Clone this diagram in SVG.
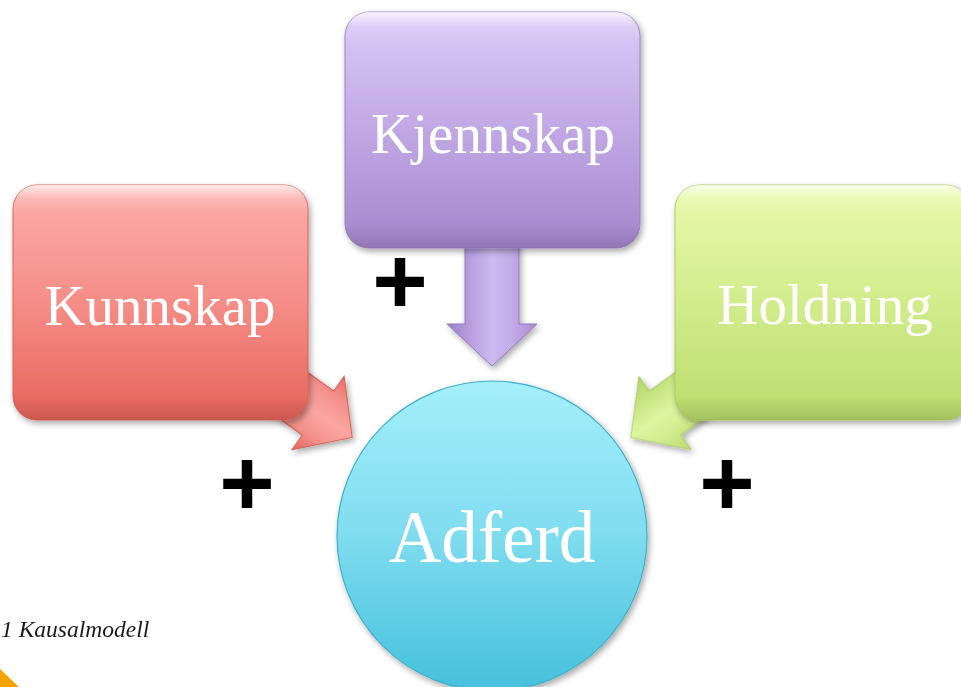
<svg xmlns="http://www.w3.org/2000/svg" width="961" height="687" viewBox="0 0 961 687">
  <defs>
    <linearGradient id="gRed" x1="0" y1="0" x2="0" y2="1">
      <stop offset="0" stop-color="#fcaeab"/>
      <stop offset="0.5" stop-color="#f58d87"/>
      <stop offset="1" stop-color="#e6645a"/>
    </linearGradient>
    <linearGradient id="gPurple" x1="0" y1="0" x2="0" y2="1">
      <stop offset="0" stop-color="#dccbf8"/>
      <stop offset="0.5" stop-color="#c0a8e4"/>
      <stop offset="1" stop-color="#a386cb"/>
    </linearGradient>
    <linearGradient id="gGreen" x1="0" y1="0" x2="0" y2="1">
      <stop offset="0" stop-color="#e8faab"/>
      <stop offset="0.5" stop-color="#d2ec8c"/>
      <stop offset="1" stop-color="#b9dc6b"/>
    </linearGradient>
    <linearGradient id="gCyan" x1="0" y1="0" x2="0" y2="1">
      <stop offset="0" stop-color="#a4effb"/>
      <stop offset="0.5" stop-color="#7fdcef"/>
      <stop offset="1" stop-color="#44c0dc"/>
    </linearGradient>
    <!-- glossy rim along the top of each box -->
    <linearGradient id="gGloss" x1="0" y1="0" x2="0" y2="1">
      <stop offset="0" stop-color="#ffffff" stop-opacity="0.75"/>
      <stop offset="0.06" stop-color="#ffffff" stop-opacity="0.15"/>
      <stop offset="0.12" stop-color="#ffffff" stop-opacity="0"/>
      <stop offset="0.9" stop-color="#000000" stop-opacity="0"/>
      <stop offset="1" stop-color="#000000" stop-opacity="0.12"/>
    </linearGradient>
    <!-- bevel across the arrow body (local coordinates, arrow points along +x) -->
    <linearGradient id="aRed" gradientUnits="userSpaceOnUse" x1="0" y1="-45" x2="0" y2="45">
      <stop offset="0" stop-color="#e86e68"/>
      <stop offset="0.25" stop-color="#f3918b"/>
      <stop offset="0.5" stop-color="#fba6a1"/>
      <stop offset="0.75" stop-color="#f3918b"/>
      <stop offset="1" stop-color="#e06660"/>
    </linearGradient>
    <linearGradient id="aPurple" gradientUnits="userSpaceOnUse" x1="0" y1="-45" x2="0" y2="45">
      <stop offset="0" stop-color="#a98ed3"/>
      <stop offset="0.3" stop-color="#c4ade9"/>
      <stop offset="0.5" stop-color="#cdb9f0"/>
      <stop offset="0.7" stop-color="#bba3e2"/>
      <stop offset="1" stop-color="#9c80c8"/>
    </linearGradient>
    <linearGradient id="aGreen" gradientUnits="userSpaceOnUse" x1="0" y1="-45" x2="0" y2="45">
      <stop offset="0" stop-color="#b9da70"/>
      <stop offset="0.3" stop-color="#d2ee90"/>
      <stop offset="0.5" stop-color="#dcf5a0"/>
      <stop offset="0.7" stop-color="#cbe888"/>
      <stop offset="1" stop-color="#b0d266"/>
    </linearGradient>
    <filter id="shadow" x="-10%" y="-10%" width="125%" height="125%">
      <feDropShadow dx="2" dy="3" stdDeviation="3" flood-color="#000" flood-opacity="0.35"/>
    </filter>
    <path id="arrowShape" d="M -90 -27 L 0 -27 L 0 -45 L 42 0 L 0 45 L 0 27 L -90 27 Z"/>
  </defs>
  <style>
    .label { font-family: "Liberation Serif", "Times New Roman", serif; fill: #ffffff; text-anchor: middle; }
    .plus { font-family: "Liberation Sans", Arial, sans-serif; font-weight: bold; font-size: 95px; fill: #000000; text-anchor: middle; }
    .caption { font-family: "Liberation Serif", "Times New Roman", serif; font-style: italic; font-size: 23.5px; fill: #1a1a1a; }
    .box { filter: url(#shadow); }
  </style>

  <rect width="961" height="687" fill="#ffffff"/>

  <!-- connectors -->
  <g id="connectors">
    <g filter="url(#shadow)">
      <use href="#arrowShape" transform="translate(318 413) rotate(35.5)" fill="url(#aRed)" stroke="#d8605a" stroke-width="1"/>
      <use href="#arrowShape" transform="translate(492 324) rotate(90)" fill="url(#aPurple)" stroke="#9478c0" stroke-width="1"/>
      <use href="#arrowShape" transform="translate(665 413) rotate(144.5)" fill="url(#aGreen)" stroke="#a8c860" stroke-width="1"/>
    </g>
    <text class="plus" x="400" y="313">+</text>
    <text class="plus" x="247" y="515">+</text>
    <text class="plus" x="727" y="515">+</text>
  </g>

  <!-- Kunnskap -->
  <g id="node-kunnskap">
    <rect class="box" x="13" y="185" width="295" height="235" rx="24" fill="url(#gRed)" stroke="#d9625a" stroke-width="1"/>
    <rect x="13" y="185" width="295" height="235" rx="24" fill="url(#gGloss)"/>
    <text class="label" x="160" y="325" font-size="57">Kunnskap</text>
  </g>

  <!-- Kjennskap -->
  <g id="node-kjennskap">
    <rect class="box" x="345" y="12" width="295" height="236" rx="24" fill="url(#gPurple)" stroke="#9a7fc4" stroke-width="1"/>
    <rect x="345" y="12" width="295" height="236" rx="24" fill="url(#gGloss)"/>
    <text class="label" x="493" y="153" font-size="57">Kjennskap</text>
  </g>

  <!-- Holdning -->
  <g id="node-holdning">
    <rect class="box" x="675" y="185" width="295" height="235" rx="24" fill="url(#gGreen)" stroke="#accd62" stroke-width="1"/>
    <rect x="675" y="185" width="295" height="235" rx="24" fill="url(#gGloss)"/>
    <text class="label" x="825" y="324" font-size="57">Holdning</text>
  </g>

  <!-- Adferd -->
  <g id="node-adferd">
    <circle class="box" cx="492" cy="536" r="155" fill="url(#gCyan)" stroke="#3fb0cb" stroke-width="1.2"/>
    <text class="label" x="492" y="562" font-size="73">Adferd</text>
  </g>

  <!-- caption and corner mark -->
  <text class="caption" x="1" y="637">1 Kausalmodell</text>
  <polygon points="0,669 19,687 0,687" fill="#f4a300"/>
</svg>
